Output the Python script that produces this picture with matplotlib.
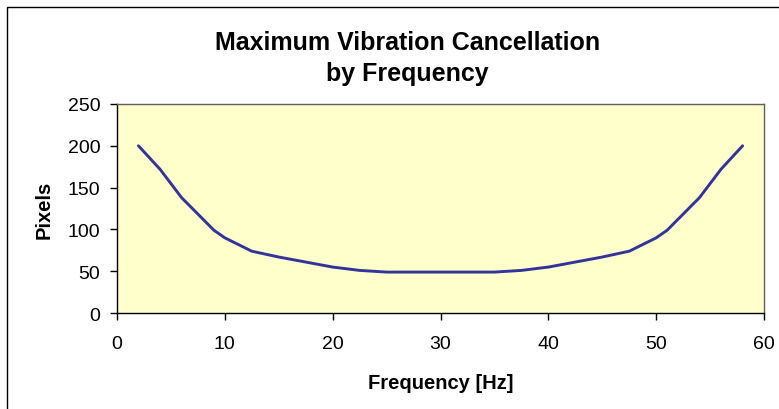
import matplotlib.pyplot as plt
from matplotlib.patches import Rectangle

plt.rcParams['font.family'] = ['Liberation Sans', 'DejaVu Sans']

# data
freq = [2, 4, 6, 9, 10, 12.5, 15, 20, 22.5, 25, 30, 35, 37.5, 40, 45, 47.5, 50, 51, 54, 56, 58]
pixels = [200, 172, 138, 99, 90, 74, 67, 55, 51, 49, 49, 49, 51, 55, 67, 74, 90, 99, 138, 172, 200]
xticks = [0, 10, 20, 30, 40, 50, 60]
yticks = [0, 50, 100, 150, 200, 250]

fig = plt.figure(figsize=(7.79, 4.10), dpi=100)
ax = fig.add_axes([0.150, 0.234, 0.831, 0.510])
ax.set_facecolor('#FFFFCC')

ax.plot(freq, pixels, color='#333399', lw=2.1, solid_joinstyle='round',
        solid_capstyle='round')

ax.set_xlim(0, 60)
ax.set_ylim(0, 250)
ax.set_xticks(xticks)
ax.set_yticks(yticks)
ax.tick_params(direction='out', length=5, width=1, labelsize=14)
ax.tick_params(axis='y', pad=7)
ax.tick_params(axis='x', pad=11)
for s in ax.spines.values():
    s.set_linewidth(1)
    s.set_color('black')
for s in ('top', 'right'):
    ax.spines[s].set_color('#606060')

ax.set_xlabel('Frequency [Hz]', fontsize=14.5, fontweight='bold', labelpad=15)
ax.set_ylabel('Pixels', fontsize=14.5, fontweight='bold', labelpad=10)

fig.text(0.523, 0.858, 'Maximum Vibration Cancellation\nby Frequency',
         ha='center', va='center', fontsize=18, fontweight='bold',
         linespacing=1.37)

# chart border (runs off the right/bottom edges like in the original)
fig.patches.append(Rectangle((7 / 779, -0.1), 1.2, 0.1 + (410 - 8) / 410,
                             transform=fig.transFigure, fill=False,
                             edgecolor='black', lw=1))

fig.savefig('out.png', dpi=100)
